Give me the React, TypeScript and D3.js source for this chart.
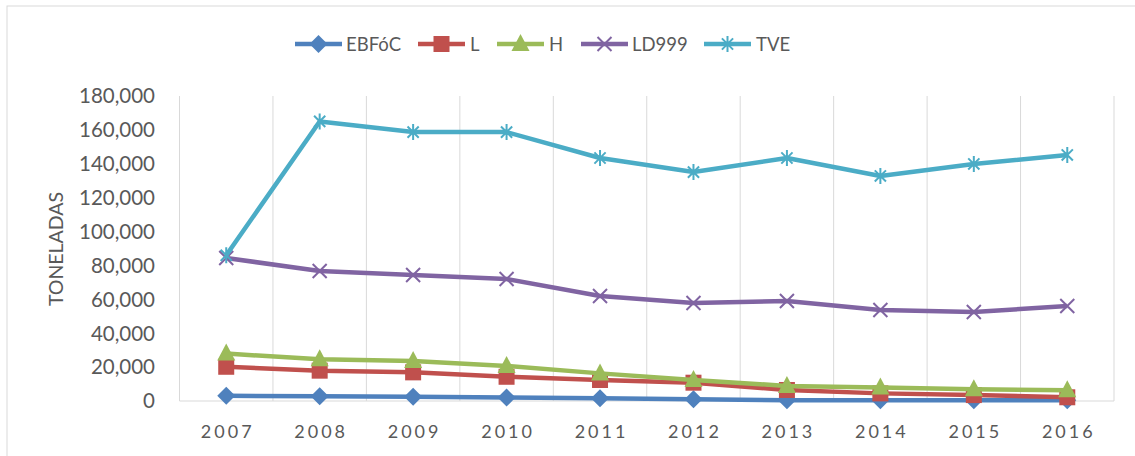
import React from "react";
import * as d3 from "d3";

const years = ["2007", "2008", "2009", "2010", "2011", "2012", "2013", "2014", "2015", "2016"];
const ebfoc = [3100, 2800, 2500, 2000, 1600, 1000, 500, 500, 500, 400];
const lSeries = [20200, 17900, 16900, 14300, 12400, 10800, 6500, 4500, 3500, 2200];
const hSeries = [28000, 24600, 23600, 20700, 16300, 12400, 8900, 7900, 6900, 6300];
const ld999 = [84400, 76700, 74400, 72000, 62000, 57800, 59000, 53700, 52500, 56100];
const tve = [86000, 165000, 158700, 158700, 143400, 135100, 143400, 132800, 139900, 145200];
const yTicks = [0, 20000, 40000, 60000, 80000, 100000, 120000, 140000, 160000, 180000];

const series = [
  { name: "EBFóC", values: ebfoc, color: "#4F81BD", marker: "diamond" },
  { name: "L", values: lSeries, color: "#C0504D", marker: "square" },
  { name: "H", values: hSeries, color: "#9BBB59", marker: "triangle" },
  { name: "LD999", values: ld999, color: "#8064A2", marker: "x" },
  { name: "TVE", values: tve, color: "#4BACC6", marker: "star" },
];

const W = 1135, H = 456;
const plot = { left: 179.5, right: 1114, top: 96, bottom: 401 };
const FONT = "Lato, 'Open Sans', sans-serif";

function Marker({ type, x, y, color }: { type: string; x: number; y: number; color: string }) {
  if (type === "diamond") {
    const s = 9;
    return <path d={`M${x},${y - s}L${x + s},${y}L${x},${y + s}L${x - s},${y}Z`} fill={color} />;
  }
  if (type === "square") {
    const s = 8;
    return <rect x={x - s} y={y - s} width={2 * s} height={2 * s} fill={color} />;
  }
  if (type === "triangle") {
    const s = 9;
    return <path d={`M${x},${y - s - 1}L${x + s},${y + s - 2}L${x - s},${y + s - 2}Z`} fill={color} />;
  }
  if (type === "x") {
    const s = 7;
    return (
      <path d={`M${x - s},${y - s}L${x + s},${y + s}M${x - s},${y + s}L${x + s},${y - s}`} stroke={color} strokeWidth={2} />
    );
  }
  const s = 8;
  return (
    <path
      d={`M${x - s * 0.7},${y - s * 0.7}L${x + s * 0.7},${y + s * 0.7}M${x - s * 0.7},${y + s * 0.7}L${x + s * 0.7},${y - s * 0.7}M${x},${y - s}L${x},${y + s}`}
      stroke={color}
      strokeWidth={2}
    />
  );
}

export default function App() {
  const x = d3.scaleBand<string>().domain(years).range([plot.left, plot.right]);
  const y = d3.scaleLinear().domain([0, 180000]).range([plot.bottom, plot.top]);
  const cx = (yr: string) => (x(yr) as number) + x.bandwidth() / 2;
  const fmt = d3.format(",");
  const line = d3
    .line<number>()
    .x((_, i) => cx(years[i]))
    .y((v) => y(v));

  const legendItems = [
    { x: 295, tx: 346 },
    { x: 418, tx: 470 },
    { x: 497, tx: 549 },
    { x: 581, tx: 632 },
    { x: 704, tx: 756 },
  ];

  return (
    <svg width={W} height={H} style={{ position: "absolute", left: 0, top: 0 }}>
      <rect x={0} y={0} width={W} height={H} fill="#fff" />
      <rect x={7} y={6} width={W + 10} height={H + 10} fill="none" stroke="#d9d9d9" strokeWidth={1} />
      {years.slice(1).map((yr) => (
        <line key={yr} x1={x(yr)} x2={x(yr)} y1={plot.top} y2={plot.bottom} stroke="#d9d9d9" strokeWidth={1} />
      ))}
      <line x1={plot.right} x2={plot.right} y1={plot.top} y2={plot.bottom} stroke="#d9d9d9" strokeWidth={1} />
      <line x1={plot.left} x2={plot.left} y1={plot.top} y2={plot.bottom} stroke="#d9d9d9" strokeWidth={1} />
      <line x1={plot.left} x2={plot.right} y1={plot.bottom} y2={plot.bottom} stroke="#d9d9d9" strokeWidth={1} />
      {yTicks.map((t) => (
        <text key={t} x={155} y={y(t)} dy="0.36em" textAnchor="end" fontFamily={FONT} fontSize={20.5} fill="#595959">
          {fmt(t)}
        </text>
      ))}
      {years.map((yr) => (
        <text key={yr} x={cx(yr) + 1.5} y={438} textAnchor="middle" fontFamily={FONT} fontSize={18} letterSpacing={3} fill="#595959">
          {yr}
        </text>
      ))}
      <text
        transform={`translate(63,249) rotate(-90)`}
        textAnchor="middle"
        fontFamily={FONT}
        fontSize={19.5}
        fill="#595959"
      >
        TONELADAS
      </text>
      {series.map((s) => (
        <g key={s.name}>
          <path d={line(s.values) || ""} fill="none" stroke={s.color} strokeWidth={4.5} strokeLinejoin="round" />
          {s.values.map((v, i) => (
            <Marker key={i} type={s.marker} x={cx(years[i])} y={y(v)} color={s.color} />
          ))}
        </g>
      ))}
      {series.map((s, i) => {
        const li = legendItems[i];
        return (
          <g key={s.name}>
            <line x1={li.x} x2={li.x + 47} y1={44} y2={44} stroke={s.color} strokeWidth={4.5} />
            <Marker type={s.marker} x={li.x + 23.5} y={44} color={s.color} />
            <text x={li.tx} y={44} dy="0.36em" fontFamily={FONT} fontSize={18.5} fill="#595959">
              {s.name}
            </text>
          </g>
        );
      })}
    </svg>
  );
}
